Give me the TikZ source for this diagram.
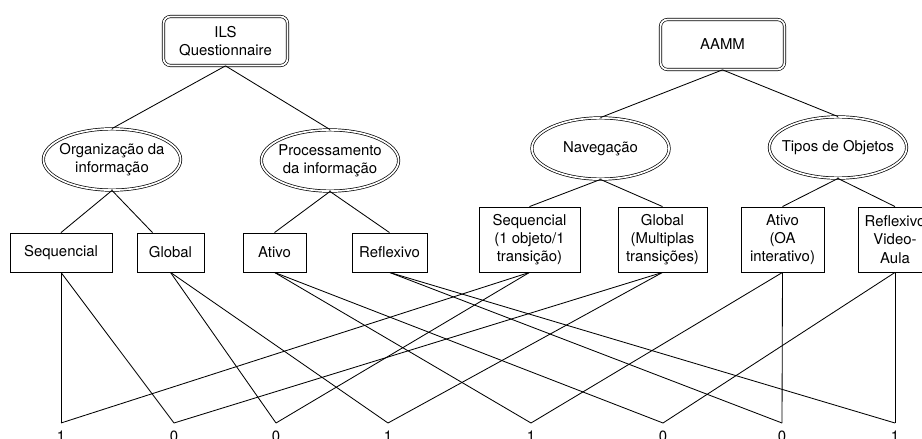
\documentclass[tikz,border=0pt]{standalone}
\usepackage{fontspec}
\setmainfont{TeX Gyre Heros}
\usetikzlibrary{positioning,shapes.geometric}

\newcommand{\elltext}[1]{\makebox[0pt]{\begin{tabular}{@{}c@{}}#1\end{tabular}}}

\begin{document}
\begin{tikzpicture}[x=0.025cm,y=-0.025cm,font=\fontsize{10.6}{13}\selectfont,
  rootbox/.style={draw,double,line width=0.5pt,double distance=1.2pt,rounded corners=5pt,align=center,minimum width=3.1cm},
  catell/.style={draw,double,line width=0.5pt,double distance=1.2pt,ellipse,inner sep=0pt,minimum width=3.43cm,minimum height=1.53cm},
  leaf/.style={draw,line width=0.6pt,align=center,inner sep=2pt},
  val/.style={inner sep=1pt}]
\useasboundingbox (0,0) rectangle (922,439);
\node[rootbox,minimum height=1.225cm] (ils) at (225.5,41) {ILS\\Questionnaire};
\node[rootbox,minimum height=1.25cm] (aamm) at (722.5,44.5) {AAMM};
\node[catell] (org) at (112,159.5) {\elltext{Organização da\\informação}};
\node[catell] (proc) at (330,160.5) {\elltext{Processamento\\da informação}};
\node[catell] (nav) at (600.5,148.5) {\elltext{Navegação}};
\node[catell] (tipos) at (838,147.5) {\elltext{Tipos de Objetos}};
\node[leaf,minimum width=2.55cm,minimum height=0.975cm] (seqL) at (61,252.5) {Sequencial};
\node[leaf,minimum width=1.675cm,minimum height=0.975cm] (globL) at (170.5,252.5) {Global};
\node[leaf,minimum width=1.575cm,minimum height=0.975cm] (ativL) at (274.5,252.5) {Ativo};
\node[leaf,minimum width=1.875cm,minimum height=0.975cm] (reflL) at (389.5,252.5) {Reflexivo};
\node[leaf,minimum width=2.525cm,minimum height=1.625cm] (seqR) at (529.5,239.5) {Sequencial\\(1 objeto/1\\transição)};
\node[leaf,minimum width=2.225cm,minimum height=1.625cm] (globR) at (662.5,239.5) {Global\\(Multiplas\\transições)};
\node[leaf,minimum width=2.075cm,minimum height=1.625cm] (ativR) at (782.5,239.5) {Ativo\\(OA\\interativo)};
\node[leaf,minimum width=1.85cm,minimum height=1.625cm] (reflR) at (895,239.5) {Reflexivo\\Video-\\Aula};
\draw[line width=0.6pt] (ils.south) -- (org.north);
\draw[line width=0.6pt] (ils.south) -- (proc.north);
\draw[line width=0.6pt] (aamm.south) -- (nav.north);
\draw[line width=0.6pt] (aamm.south) -- (tipos.north);
\draw[line width=0.6pt] (org.south) -- (seqL.north);
\draw[line width=0.6pt] (org.south) -- ([xshift=-0.45cm]globL.north);
\draw[line width=0.6pt] (proc.south) -- (ativL.north);
\draw[line width=0.6pt] (proc.south) -- (reflL.north);
\draw[line width=0.6pt] (nav.south) -- (seqR.north);
\draw[line width=0.6pt] (nav.south) -- (globR.north);
\draw[line width=0.6pt] (tipos.south) -- (ativR.north);
\draw[line width=0.6pt] (tipos.south) -- (reflR.north);
\foreach \x/\v [count=\i] in {61/1,174/0,276/0,388/1,531/1,663/0,782/0,895/1} {
  \coordinate (b\i) at (\x,423);
  \node[val,below=0.16cm of b\i] (v\i) {\v};
}
\foreach \a/\b in {seqL/b1,seqL/b2,globL/b3,globL/b4,ativL/b5,ativL/b6,reflL/b7,reflL/b8,
  seqR/b1,seqR/b3,globR/b2,globR/b4,ativR/b5,ativR/b7,reflR/b6,reflR/b8}
  \draw[line width=0.6pt] (\a.south) -- (\b);
\end{tikzpicture}
\end{document}
